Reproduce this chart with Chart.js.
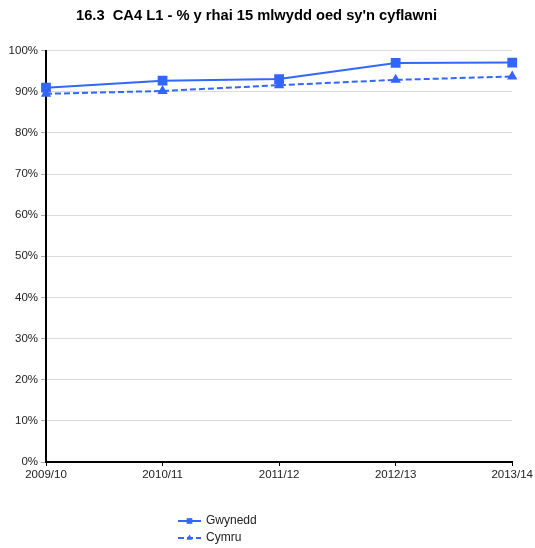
<!DOCTYPE html>
<html><head><meta charset="utf-8">
<script src="https://cdn.jsdelivr.net/npm/chart.js@4/dist/chart.umd.min.js"></script>
<style>html,body{margin:0;padding:0;background:#fff}#wrap{width:535px;height:548px;position:relative}</style>
</head><body><div id="wrap"><canvas id="c" width="535" height="548"></canvas></div>
<script>
const titleText = "16.3  CA4 L1 - % y rhai 15 mlwydd oed sy'n cyflawni";
const categories = ["2009/10", "2010/11", "2011/12", "2012/13", "2013/14"];
const gwynedd = [91.0, 92.7, 93.1, 97.0, 97.1];
const cymru = [89.5, 90.2, 91.6, 92.9, 93.7];
const seriesNames = ["Gwynedd", "Cymru"];
const yTicks = [0, 10, 20, 30, 40, 50, 60, 70, 80, 90, 100];

const BLUE = "#3366ff";
const FONT = "'Liberation Sans', Arial, sans-serif";

const legendPlugin = {
  id: 'customLegend',
  afterDraw(chart) {
    const ctx = chart.ctx;
    const items = chart.data.datasets;
    ctx.save();
    items.forEach((ds, i) => {
      const y = 521 + i * 17;
      const x0 = 178, x1 = 201;
      ctx.strokeStyle = ds.borderColor;
      ctx.lineWidth = 2;
      ctx.setLineDash(ds.borderDash || []);
      ctx.beginPath(); ctx.moveTo(x0, y); ctx.lineTo(x1, y); ctx.stroke();
      ctx.setLineDash([]);
      ctx.fillStyle = ds.pointBackgroundColor;
      Chart.helpers.drawPoint(ctx, {pointStyle: ds.pointStyle, radius: i === 0 ? 4 : 3.5, rotation: 0, borderWidth: 0}, (x0 + x1) / 2, y);
      ctx.fillStyle = '#222';
      ctx.font = "12px " + FONT;
      ctx.textBaseline = 'middle';
      ctx.textAlign = 'left';
      ctx.fillText(ds.label, 206, y);
    });
    ctx.restore();
  }
};

new Chart(document.getElementById('c'), {
  type: 'line',
  data: {
    labels: categories,
    datasets: [
      { label: seriesNames[0], data: gwynedd, borderColor: BLUE, backgroundColor: BLUE,
        pointBackgroundColor: BLUE, pointBorderColor: BLUE, pointStyle: 'rect', pointRadius: 5.5,
        borderWidth: 2, tension: 0 },
      { label: seriesNames[1], data: cymru, borderColor: BLUE, backgroundColor: BLUE,
        pointBackgroundColor: BLUE, pointBorderColor: BLUE, pointStyle: 'triangle', pointRadius: 4,
        borderWidth: 2, borderDash: [6, 3], tension: 0 }
    ]
  },
  options: {
    responsive: false,
    animation: false,
    layout: { padding: { left: 0, right: 22, top: 0, bottom: 60 } },
    plugins: {
      legend: { display: false },
      tooltip: { enabled: false },
      title: { display: true, text: titleText, color: '#000',
        font: { family: FONT, size: 14.7, weight: 'bold' }, padding: { top: 7, bottom: 26 } }
    },
    scales: {
      x: {
        offset: false,
        grid: { drawOnChartArea: false, drawTicks: true, tickLength: 4, color: '#000' },
        border: { color: '#000', width: 2 },
        ticks: { color: '#222', font: { family: FONT, size: 11.5 }, padding: 2, maxRotation: 0 },
        afterFit(s) { s.height = 26; }
      },
      y: {
        min: 0, max: 100,
        afterBuildTicks(s) { s.ticks = yTicks.map(v => ({ value: v })); },
        grid: { color: '#dcdcdc', lineWidth: 1, tickLength: 5, tickColor: '#aaa' },
        border: { color: '#000', width: 2 },
        ticks: { color: '#222', font: { family: FONT, size: 11.5 }, padding: 3,
          callback: v => v + '%' },
        afterFit(s) { s.width = 46; }
      }
    }
  },
  plugins: [legendPlugin]
});
</script></body></html>
